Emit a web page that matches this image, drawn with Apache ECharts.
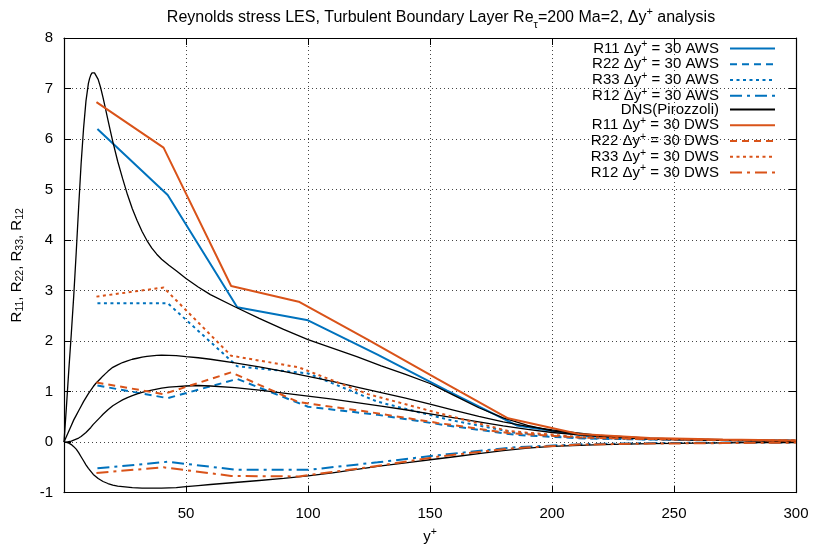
<!DOCTYPE html>
<html>
<head>
<meta charset="utf-8">
<script src="https://cdn.jsdelivr.net/npm/echarts@6/dist/echarts.min.js"></script>
<style>html,body{margin:0;padding:0;background:#fff}#c{width:813px;height:549px}</style>
</head>
<body>
<div id="c"></div>
<script>
// ---------- DATA ----------
var xTicks = [50, 100, 150, 200, 250, 300];
var yTicks = [-1, 0, 1, 2, 3, 4, 5, 6, 7, 8];

// LES, Δy+ = 30, AWS
var awsX   = [13.7, 42.5, 71, 100, 128.5, 157, 185.5, 214, 242.5, 271, 299.5];
var awsR11 = [6.2, 4.89, 2.67, 2.41, 1.73, 1.02, 0.33, 0.12, 0.06, 0.04, 0.03];
var awsR22 = [1.12, 0.87, 1.25, 0.70, 0.54, 0.33, 0.14, 0.07, 0.05, 0.04, 0.03];
var awsR33 = [2.75, 2.75, 1.50, 1.36, 0.80, 0.45, 0.18, 0.08, 0.05, 0.04, 0.03];
var awsR12 = [-0.52, -0.39, -0.55, -0.55, -0.40, -0.24, -0.10, -0.04, -0.02, -0.01, -0.01];

// LES, Δy+ = 30, DWS
var dwsX   = [13.3, 40.8, 68.5, 96.2, 124.5, 153, 182, 211, 240, 270, 300];
var dwsR11 = [6.73, 5.83, 3.09, 2.78, 2.03, 1.25, 0.47, 0.16, 0.08, 0.05, 0.03];
var dwsR22 = [1.18, 0.95, 1.38, 0.79, 0.60, 0.38, 0.18, 0.09, 0.06, 0.04, 0.03];
var dwsR33 = [2.88, 3.06, 1.71, 1.48, 0.95, 0.58, 0.22, 0.10, 0.06, 0.04, 0.03];
var dwsR12 = [-0.61, -0.50, -0.67, -0.68, -0.50, -0.29, -0.13, -0.05, -0.03, -0.02, -0.01];

// DNS (Pirozzoli)
var dnsX   = [0,1,2,3,4,5,6,7,8,9,10,10.5,11,11.5,12,12.5,13,14,15,16,17,18,19,20,22,24,26,28,30,32,34,36,38,40,43,46,50,55,60,70,80,90,100,110,120,130,140,150,160,170,180,190,200,220,240,260,280,300];
var dnsR11 = [0,0.7,1.45,2.15,2.9,3.75,4.65,5.5,6.2,6.75,7.1,7.2,7.27,7.31,7.32,7.31,7.28,7.18,7.02,6.82,6.6,6.38,6.16,5.95,5.56,5.22,4.9,4.62,4.38,4.17,3.99,3.84,3.72,3.62,3.50,3.39,3.24,3.07,2.92,2.68,2.45,2.23,2.03,1.86,1.69,1.51,1.34,1.16,0.92,0.68,0.48,0.33,0.22,0.12,0.07,0.05,0.03,0.02];
var dnsR33 = [0,0.11,0.22,0.33,0.44,0.53,0.62,0.71,0.80,0.88,0.96,0.995,1.03,1.065,1.10,1.13,1.16,1.21,1.26,1.31,1.355,1.40,1.44,1.48,1.53,1.575,1.61,1.64,1.66,1.68,1.695,1.705,1.715,1.72,1.715,1.71,1.69,1.67,1.64,1.57,1.49,1.40,1.30,1.20,1.09,0.98,0.87,0.75,0.63,0.51,0.40,0.31,0.24,0.13,0.08,0.05,0.03,0.02];
var dnsR22 = [0,0,0.01,0.02,0.04,0.06,0.08,0.11,0.15,0.19,0.24,0.265,0.29,0.32,0.35,0.375,0.40,0.45,0.50,0.55,0.595,0.64,0.68,0.72,0.78,0.835,0.88,0.92,0.955,0.985,1.01,1.03,1.05,1.07,1.09,1.10,1.11,1.12,1.11,1.08,1.03,0.97,0.91,0.85,0.78,0.71,0.64,0.56,0.48,0.40,0.32,0.25,0.19,0.11,0.06,0.04,0.03,0.02];
var dnsR12 = [0,-0.005,-0.02,-0.05,-0.09,-0.14,-0.21,-0.29,-0.37,-0.45,-0.52,-0.55,-0.58,-0.61,-0.64,-0.66,-0.68,-0.72,-0.75,-0.78,-0.80,-0.82,-0.835,-0.85,-0.87,-0.88,-0.89,-0.90,-0.905,-0.91,-0.91,-0.91,-0.91,-0.91,-0.905,-0.90,-0.88,-0.86,-0.84,-0.80,-0.76,-0.72,-0.67,-0.61,-0.54,-0.47,-0.41,-0.35,-0.29,-0.23,-0.17,-0.12,-0.085,-0.05,-0.03,-0.02,-0.01,-0.01];

// ---------- CHART ----------
var BLUE = '#0072bd', ORANGE = '#d95319';
var FONT = 'Liberation Sans, Arial, sans-serif';
function pairs(xs, ys) { return xs.map(function (x, i) { return [x, ys[i]]; }); }

var DASH = [7, 5], DOT = [3, 3.5], DASHDOT = [12, 5, 3, 5];

function les(name, xs, ys, color, type) {
  return { name: name, type: 'line', data: pairs(xs, ys), symbol: 'none', showSymbol: false,
    lineStyle: { color: color, width: 2, type: type }, itemStyle: { color: color }, z: 3 };
}
function dns(ys) {
  return { name: 'DNS(Pirozzoli)', type: 'line', data: pairs(dnsX, ys), symbol: 'none', showSymbol: false,
    smooth: false,
    lineStyle: { color: '#000', width: 1.3, type: 'solid' }, itemStyle: { color: '#000' }, z: 3 };
}

var legendLabels = {
  'R11 AWS': ['R11', 'AWS'], 'R22 AWS': ['R22', 'AWS'], 'R33 AWS': ['R33', 'AWS'], 'R12 AWS': ['R12', 'AWS'],
  'R11 DWS': ['R11', 'DWS'], 'R22 DWS': ['R22', 'DWS'], 'R33 DWS': ['R33', 'DWS'], 'R12 DWS': ['R12', 'DWS']
};

var series = [
  les('R11 AWS', awsX, awsR11, BLUE, 'solid'),
  les('R22 AWS', awsX, awsR22, BLUE, DASH),
  les('R33 AWS', awsX, awsR33, BLUE, DOT),
  les('R12 AWS', awsX, awsR12, BLUE, DASHDOT),
  dns(dnsR11), dns(dnsR22), dns(dnsR33), dns(dnsR12),
  les('R11 DWS', dwsX, dwsR11, ORANGE, 'solid'),
  les('R22 DWS', dwsX, dwsR22, ORANGE, DASH),
  les('R33 DWS', dwsX, dwsR33, ORANGE, DOT),
  les('R12 DWS', dwsX, dwsR12, ORANGE, DASHDOT)
];

var gridLine = { show: true, lineStyle: { color: '#444', width: 1, type: [1, 3] } };
var axisLine = { show: true, onZero: false, lineStyle: { color: '#000', width: 1.2 } };
var tickIn = { show: true, inside: true, length: 7, lineStyle: { color: '#000' } };
var FS = 15;

var chart = echarts.init(document.getElementById('c'), null, { renderer: 'canvas' });
chart.setOption({
  animation: false,
  backgroundColor: '#fff',
  textStyle: { fontFamily: FONT },
  title: {
    text: '{a|Reynolds stress LES, Turbulent Boundary Layer Re}{sub|τ}{a|=200 Ma=2, Δy}{sup|+}{a| analysis}',
    left: 436, top: 1, textAlign: 'center',
    textStyle: {
      fontWeight: 'normal',
      rich: {
        a: { fontFamily: FONT, fontSize: 16, fontWeight: 'normal', color: '#000', lineHeight: 24 },
        sub: { fontFamily: FONT, fontSize: 11, fontWeight: 'normal', color: '#000', lineHeight: 8, verticalAlign: 'bottom' },
        sup: { fontFamily: FONT, fontSize: 11, fontWeight: 'normal', color: '#000', lineHeight: 8, verticalAlign: 'top' }
      }
    }
  },
  grid: { left: 64, right: 17, top: 38, bottom: 53, containLabel: false },
  legend: {
    data: ['R11 AWS', 'R22 AWS', 'R33 AWS', 'R12 AWS', 'DNS(Pirozzoli)', 'R11 DWS', 'R22 DWS', 'R33 DWS', 'R12 DWS'],
    orient: 'vertical', align: 'right', right: 37, top: 39, padding: 0,
    itemWidth: 45, itemHeight: 12, itemGap: -1.25,
    selectedMode: false,
    itemStyle: { opacity: 0 },
    formatter: function (n) {
      var l = legendLabels[n];
      if (!l) return '{a|' + n + '}{p|}';
      return '{a|' + l[0] + ' Δy}{s|+}{a| = 30 ' + l[1] + '}{p|}';
    },
    textStyle: {
      rich: {
        a: { fontFamily: FONT, fontSize: FS, color: '#000', lineHeight: 19 },
        s: { fontFamily: FONT, fontSize: 10.5, color: '#000', lineHeight: 6, verticalAlign: 'top' },
        p: { width: 6, lineHeight: 19 }
      }
    }
  },
  xAxis: [{
    type: 'value', min: 0, max: 300, interval: 50, position: 'bottom',
    name: '{a|y}{s|+}', nameLocation: 'middle', nameGap: 33,
    nameTextStyle: { rich: {
      a: { fontFamily: FONT, fontSize: FS, color: '#000', lineHeight: 20 },
      s: { fontFamily: FONT, fontSize: 10.5, color: '#000', lineHeight: 6, verticalAlign: 'top' } } },
    axisLine: axisLine, axisTick: tickIn, splitLine: gridLine,
    axisLabel: { fontFamily: FONT, fontSize: FS, color: '#000', margin: 14,
      formatter: function (v) { return xTicks.indexOf(v) >= 0 ? String(v) : ''; } }
  }, {
    type: 'value', min: 0, max: 300, interval: 50, position: 'top',
    axisLine: axisLine, axisTick: tickIn, splitLine: { show: false }, axisLabel: { show: false }
  }],
  yAxis: [{
    type: 'value', min: -1, max: 8, interval: 1, position: 'left',
    name: '{a|R}{b|11}{a|, R}{b|22}{a|, R}{b|33}{a|, R}{b|12}',
    nameLocation: 'middle', nameGap: 38, nameRotate: 90,
    nameTextStyle: { rich: {
      a: { fontFamily: FONT, fontSize: FS, color: '#000' },
      b: { fontFamily: FONT, fontSize: 10.5, color: '#000', padding: [8, 0, 0, 0] } } },
    axisLine: axisLine, axisTick: tickIn, splitLine: gridLine,
    axisLabel: { fontFamily: FONT, fontSize: FS, color: '#000', margin: 11,
      formatter: function (v) { return yTicks.indexOf(v) >= 0 ? String(v) : ''; } }
  }, {
    type: 'value', min: -1, max: 8, interval: 1, position: 'right',
    axisLine: axisLine, axisTick: tickIn, splitLine: { show: false }, axisLabel: { show: false }
  }],
  series: series
});
</script>
</body>
</html>
